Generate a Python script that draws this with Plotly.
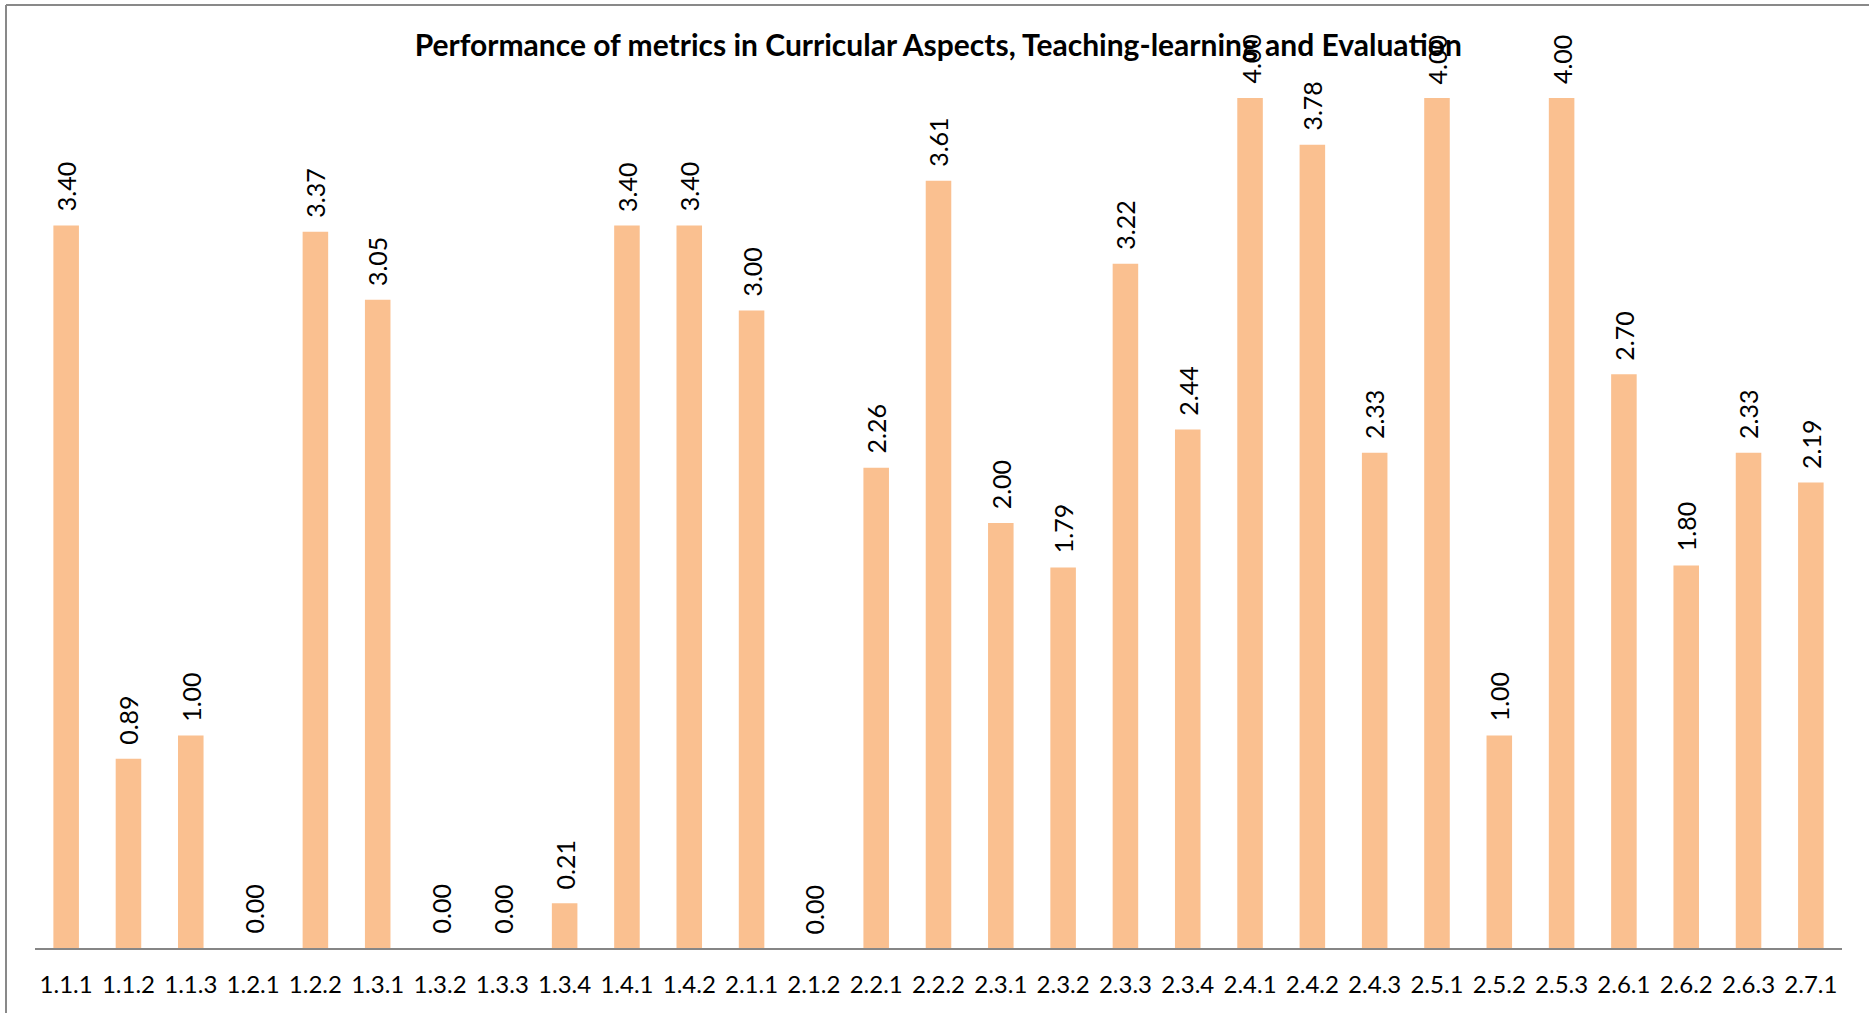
import plotly.graph_objects as go

metrics = ["1.1.1", "1.1.2", "1.1.3", "1.2.1", "1.2.2", "1.3.1", "1.3.2", "1.3.3", "1.3.4",
           "1.4.1", "1.4.2", "2.1.1", "2.1.2", "2.2.1", "2.2.2", "2.3.1", "2.3.2", "2.3.3",
           "2.3.4", "2.4.1", "2.4.2", "2.4.3", "2.5.1", "2.5.2", "2.5.3", "2.6.1", "2.6.2",
           "2.6.3", "2.7.1"]
scores = [3.40, 0.89, 1.00, 0.00, 3.37, 3.05, 0.00, 0.00, 0.21,
          3.40, 3.40, 3.00, 0.00, 2.26, 3.61, 2.00, 1.79, 3.22,
          2.44, 4.00, 3.78, 2.33, 4.00, 1.00, 4.00, 2.70, 1.80,
          2.33, 2.19]

FONT = "Lato"
W, H = 1869, 1013
ml, mr, mt, mb = 35, 27, 50, 65
px_per_unit = 212.5
ymax = (H - mt - mb) / px_per_unit

fig = go.Figure(go.Bar(
    x=metrics, y=scores,
    marker=dict(color="#FAC090", line=dict(width=0)),
    hoverinfo="x+y",
))

# data labels, rotated, a little above each bar
for m, v in zip(metrics, scores):
    fig.add_annotation(
        x=m, y=v, text=f"{v:.2f}", textangle=-90,
        showarrow=False, yanchor="bottom", xanchor="center", yshift=12,
        font=dict(family=FONT, size=25, color="#000000"),
    )

# frame line at left and top of chart area
pw = W - ml - mr
ph = H - mt - mb
left = (6 - ml) / pw
top = (H - mb - 5) / ph
fig.add_shape(type="line", xref="paper", yref="paper", x0=left, x1=left, y0=-1, y1=top,
              line=dict(color="#898989", width=2))
fig.add_shape(type="line", xref="paper", yref="paper", x0=left, x1=1.2, y0=top, y1=top,
              line=dict(color="#898989", width=2))

fig.update_layout(
    width=W, height=H,
    margin=dict(l=ml, r=mr, t=mt, b=mb, autoexpand=False),
    paper_bgcolor="white", plot_bgcolor="white",
    bargap=0.59,
    showlegend=False,
    title=dict(
        text="<b>Performance of metrics in Curricular Aspects, Teaching-learning and Evaluation</b>",
        x=0.502, xanchor="center", y=1 - 45 / H, yanchor="middle",
        font=dict(family=FONT, size=30, color="#000000"),
    ),
    font=dict(family=FONT, color="#000000"),
    xaxis=dict(
        showline=True, linecolor="#868686", linewidth=2, automargin=False,
        showgrid=False, ticks="", ticklabelstandoff=14,
        tickfont=dict(family=FONT, size=24, color="#000000"),
    ),
    yaxis=dict(
        range=[0, ymax], visible=False, showgrid=False, zeroline=False, automargin=False,
    ),
)

fig.write_html("out.html", config={"displayModeBar": False},
               post_script="document.body.style.margin='0';")
